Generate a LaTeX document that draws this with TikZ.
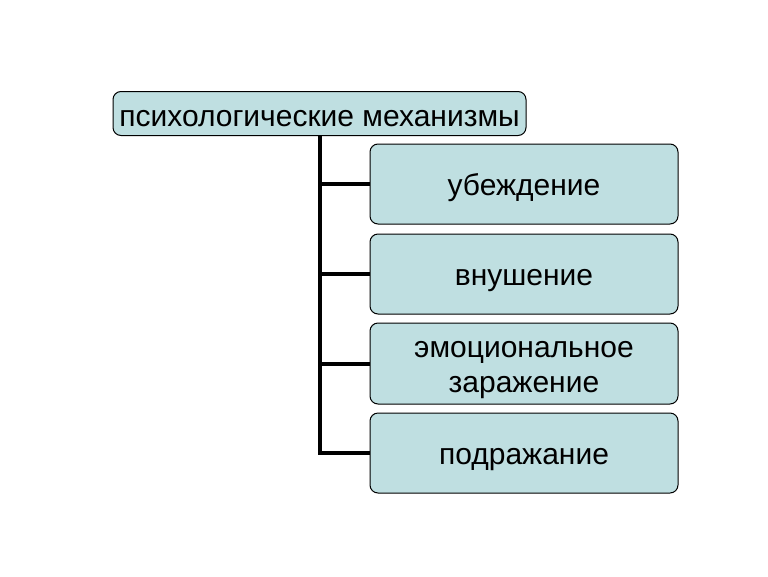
\documentclass[tikz,border=0pt]{standalone}
\usepackage{fontspec}
\setmainfont{Liberation Sans}
\definecolor{boxfill}{RGB}{191,223,225}
\begin{document}
\begin{tikzpicture}[x=1pt,y=-1pt,
  box/.style={draw=black, line width=1pt, fill=boxfill, rounded corners=8pt, inner sep=0pt, font=\fontsize{30}{35}\selectfont, align=center, text height=22pt, text depth=0pt},
  txt/.style={inner sep=0pt, font=\fontsize{30}{35}\selectfont, align=center},
  conn/.style={line width=4pt}]
\useasboundingbox (0,0) rectangle (768,576);
\node[box, minimum width=413pt, minimum height=44pt, text height=25pt] (top) at (319.5,113.5) {психологические механизмы};
\node[box, minimum width=308pt, minimum height=80pt] (b1) at (524,184) {убеждение};
\node[box, minimum width=308pt, minimum height=80pt] (b2) at (524,274) {внушение};
\node[box, minimum width=308pt, minimum height=81pt] (b3) at (524,363.5) {};
\node[txt, yshift=-6.5pt] (b3text) at (b3.center) {эмоциональное\\заражение};
\node[box, minimum width=308pt, minimum height=80pt] (b4) at (524,453) {подражание};
\draw[conn] (top.south -| 320,0) -- (320,453) -- (b4.west);
\draw[conn] (320,184) -- (b1.west);
\draw[conn] (320,274) -- (b2.west);
\draw[conn] (320,363.5) -- (b3.west);
\end{tikzpicture}
\end{document}
